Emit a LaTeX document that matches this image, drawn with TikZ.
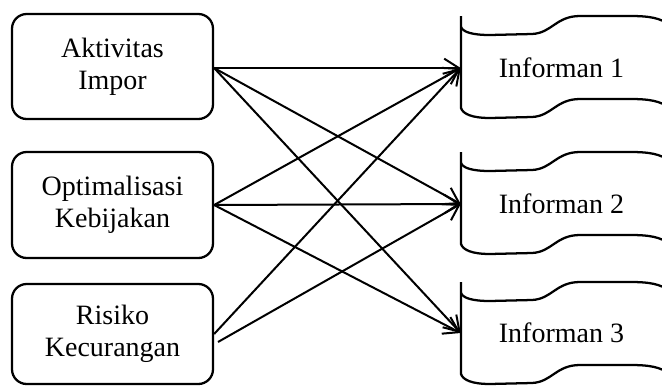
\documentclass[tikz,border=0pt]{standalone}
\usepackage{fontspec}
\setmainfont{Liberation Serif}
\usetikzlibrary{arrows.meta}
\begin{document}
\begin{tikzpicture}[x=0.75pt,y=-0.75pt,
  srcbox/.style={draw,line width=1.7pt,rounded corners=11pt,minimum width=150.75pt,inner sep=0pt,align=center,font=\fontsize{21}{24}\selectfont},
  infotext/.style={minimum width=150.75pt,inner sep=0pt,font=\fontsize{21}{24}\selectfont},
  tape/.style={line width=1.7pt},
  link/.style={line width=1.5pt,-{Straight Barb[length=11pt,width=14pt,line width=1.5pt]}}]
\useasboundingbox (0,0) rectangle (662,387);
% source boxes
\node[srcbox,minimum height=78.75pt] (b1) at (112.5,66.5) {Aktivitas\\Impor};
\node[srcbox,minimum height=79.5pt] (b2) at (112.5,205) {Optimalisasi\\Kebijakan};
\node[srcbox,minimum height=75pt] (b3) at (112.5,334) {Risiko\\Kecurangan};
\coordinate (b3b) at (218,342);
% tape shapes
\foreach \dy in {0,136,266}{
  \begin{scope}[shift={(0,\dy)}]
    \draw[tape] (461,16) -- (461,108) .. controls (463,114) and (472,118) .. (490,118) -- (532,117)
      .. controls (552,116) and (556,99) .. (580,99) -- (630,99) .. controls (650,99) and (660,101) .. (670,108);
    \draw[tape] (461,27) .. controls (463,32) and (472,35) .. (490,35) -- (532,34)
      .. controls (552,33) and (556,16) .. (580,16) -- (630,16) .. controls (650,16) and (660,18) .. (670,25);
  \end{scope}
}
\node[infotext] (i1) at (561.5,68) {Informan 1};
\node[infotext] (i2) at (561.5,204) {Informan 2};
\node[infotext] (i3) at (561.5,333) {Informan 3};
% connectors
\draw[link] (b1.east |- i1.west) -- (i1.west);
\draw[link] (b1.east |- i1.west) -- (i2.west);
\draw[link] (b1.east |- i1.west) -- (i3.west);
\draw[link] (b2.east) -- (i1.west);
\draw[link] (b2.east) -- (i2.west);
\draw[link] (b2.east) -- (i3.west);
\draw[link] (b3.east) -- (i1.west);
\draw[link] (b3b) -- (i2.west);
\end{tikzpicture}
\end{document}
